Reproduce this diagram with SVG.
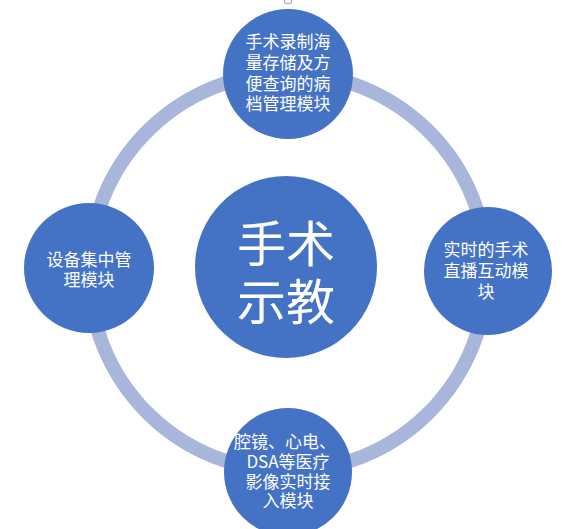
<svg xmlns="http://www.w3.org/2000/svg" width="576" height="529" viewBox="0 0 576 529">
<style>
.node{fill:#4472c4;}
.ring{fill:none;stroke:#a8b6dc;stroke-width:14;}
.t{fill:#ffffff;font-family:"Noto Sans CJK SC","Noto Sans",sans-serif;font-size:17px;text-anchor:middle;dominant-baseline:central;}
.big{font-size:49px;}
</style>
<rect width="576" height="529" fill="#ffffff"/>
<g id="connectors">
<circle class="ring" cx="288" cy="272" r="199"/>
</g>
<path d="M284 0 A4 4 0 0 0 292 0" fill="none" stroke="#999" stroke-width="1"/>
<g id="center">
<circle class="node" cx="286" cy="267" r="91"/>
<text class="t big" x="286" y="240">手术</text>
<text class="t big" x="286" y="298">示教</text>
</g>
<g id="top">
<circle class="node" cx="288" cy="74" r="65"/>
<text class="t" x="288" y="40">手术录制海</text>
<text class="t" x="288" y="61">量存储及方</text>
<text class="t" x="288" y="82">便查询的病</text>
<text class="t" x="288" y="102">档管理模块</text>
</g>
<g id="left">
<circle class="node" cx="89" cy="268" r="65"/>
<text class="t" x="89" y="258">设备集中管</text>
<text class="t" x="89" y="278">理模块</text>
</g>
<g id="right">
<circle class="node" cx="488" cy="271" r="64"/>
<text class="t" x="486" y="248">实时的手术</text>
<text class="t" x="486" y="269">直播互动模</text>
<text class="t" x="486" y="290">块</text>
</g>
<g id="bottom">
<circle class="node" cx="288" cy="472" r="64"/>
<text class="t" x="285" y="440">腔镜、心电、</text>
<text class="t" x="288" y="460">DSA等医疗</text>
<text class="t" x="288" y="480">影像实时接</text>
<text class="t" x="288" y="499">入模块</text>
</g>
</svg>
